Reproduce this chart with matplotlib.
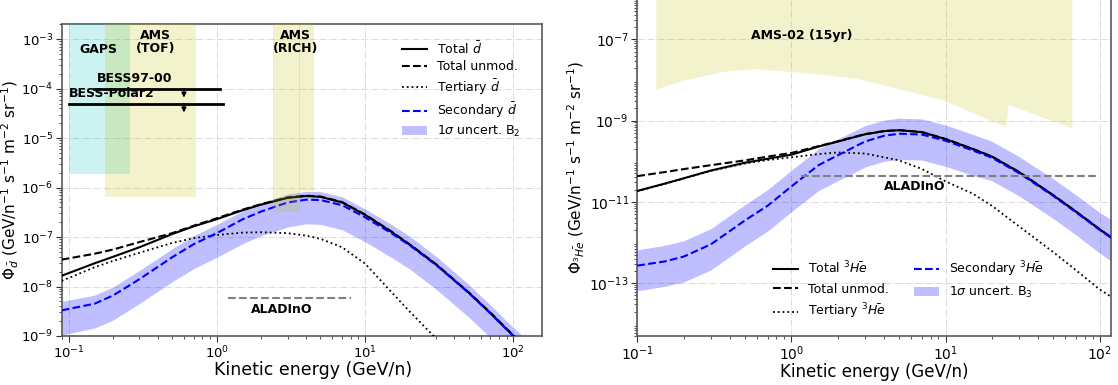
import matplotlib
matplotlib.use("Agg")
import matplotlib.pyplot as plt

# ---------------- antideuteron panel (left) ----------------
e_d = [0.09, 0.15, 0.2, 0.3, 0.5, 0.7, 1, 1.5, 2, 3, 4, 5, 7, 10, 15, 20, 30, 50, 70, 100, 150]
total_d = [1.65e-8, 2.95e-8, 4.0e-8, 6.2e-8, 1.15e-7, 1.65e-7, 2.3e-7, 3.5e-7, 4.55e-7, 6.2e-7, 6.75e-7,
           6.5e-7, 5.0e-7, 2.8e-7, 1.28e-7, 7.0e-8, 2.8e-8, 7.5e-9, 2.9e-9, 1.0e-9, 3.5e-10]
unmod_d = [3.5e-8, 4.6e-8, 5.6e-8, 7.9e-8, 1.2e-7, 1.7e-7, 2.4e-7, 3.6e-7, 4.65e-7, 6.3e-7, 6.85e-7,
           6.6e-7, 5.1e-7, 2.85e-7, 1.3e-7, 7.1e-8, 2.85e-8, 7.6e-9, 2.95e-9, 1.02e-9, 3.6e-10]
tert_d = [1.3e-8, 2.45e-8, 3.3e-8, 4.8e-8, 7.6e-8, 9.5e-8, 1.1e-7, 1.23e-7, 1.25e-7, 1.2e-7, 1.07e-7,
          9.2e-8, 6.2e-8, 2.9e-8, 7.8e-9, 3.1e-9, 9e-10, 2e-10, 7e-11, 2e-11, 5e-12]
sec_d = [3.3e-9, 4.5e-9, 6.6e-9, 1.4e-8, 3.9e-8, 7.2e-8, 1.2e-7, 2.3e-7, 3.3e-7, 5.0e-7, 5.7e-7,
         5.6e-7, 4.4e-7, 2.5e-7, 1.2e-7, 6.8e-8, 2.75e-8, 7.4e-9, 2.85e-9, 9.9e-10, 3.4e-10]
band_d_hi = [5.0e-9, 6.7e-9, 9.8e-9, 2.1e-8, 5.8e-8, 1.07e-7, 1.8e-7, 3.4e-7, 4.9e-7, 7.4e-7, 8.4e-7,
             8.3e-7, 6.5e-7, 3.7e-7, 1.8e-7, 1.04e-7, 4.1e-8, 1.1e-8, 4.2e-9, 1.47e-9, 5e-10]
band_d_lo = [1.05e-9, 1.45e-9, 2.1e-9, 4.5e-9, 1.25e-8, 2.3e-8, 3.9e-8, 7.4e-8, 1.07e-7, 1.6e-7, 1.85e-7,
             1.8e-7, 1.4e-7, 8e-8, 3.9e-8, 2.25e-8, 8.9e-9, 2.4e-9, 9.2e-10, 3.2e-10, 1.1e-10]

gaps_e = [0.1, 0.26]
gaps_lo = 1.9e-6
tof_e = [0.176, 0.72]
tof_lo = 6.6e-7
rich_e = [2.39, 3.59, 4.53]
rich_lo = [3.3e-7, 8.5e-7]
bess97_e, bess97_y = [0.149, 1.05], 1e-4
bessp2_e, bessp2_y = [0.1, 1.1], 5e-5
bess_arrow_e = 0.6
aladino_d_e, aladino_d_y = [1.19, 8.0], 5.9e-9

# ---------------- antihelium-3 panel (right) ----------------
e_he = [0.1, 0.15, 0.2, 0.3, 0.5, 0.7, 1, 1.5, 2, 3, 4, 5, 7, 10, 15, 20, 30, 50, 70, 100, 120]
total_he = [1.86e-11, 2.8e-11, 3.8e-11, 5.9e-11, 9.2e-11, 1.15e-10, 1.45e-10, 2.3e-10, 3.05e-10, 4.6e-10,
            5.5e-10, 5.8e-10, 5.2e-10, 3.5e-10, 2.0e-10, 1.3e-10, 5.4e-11, 1.45e-11, 5.8e-12, 2.1e-12, 1.3e-12]
unmod_he = [4.3e-11, 5.4e-11, 6.4e-11, 8.0e-11, 1.05e-10, 1.3e-10, 1.6e-10, 2.35e-10, 3.1e-10, 4.65e-10,
            5.55e-10, 5.85e-10, 5.25e-10, 3.55e-10, 2.02e-10, 1.31e-10, 5.45e-11, 1.46e-11, 5.85e-12, 2.12e-12,
            1.31e-12]
tert_he = [1.83e-11, 2.75e-11, 3.75e-11, 5.8e-11, 8.8e-11, 1.07e-10, 1.25e-10, 1.5e-10, 1.65e-10, 1.55e-10,
           1.25e-10, 1.05e-10, 6.5e-11, 3.2e-11, 1.6e-11, 8e-12, 2.5e-12, 5.8e-13, 2.1e-13, 7e-14, 4.5e-14]
sec_he = [2.7e-13, 3.4e-13, 4.5e-13, 9e-13, 3.5e-12, 8e-12, 2.4e-11, 8e-11, 1.4e-10, 3.05e-10, 4.25e-10,
          4.75e-10, 4.55e-10, 3.2e-10, 1.85e-10, 1.22e-10, 5.1e-11, 1.4e-11, 5.6e-12, 2.05e-12, 1.27e-12]
band_he_hi = [6.6e-13, 8.5e-13, 1.1e-12, 2.2e-12, 8.5e-12, 2e-11, 6e-11, 2e-10, 3.5e-10, 7.5e-10, 1.03e-9,
              1.15e-9, 1.1e-9, 7.8e-10, 4.6e-10, 3.1e-10, 1.3e-10, 3.7e-11, 1.5e-11, 5.5e-12, 3.6e-12]
band_he_lo = [6.5e-14, 8.3e-14, 1.07e-13, 2.1e-13, 8.3e-13, 1.9e-12, 5.7e-12, 1.9e-11, 3.3e-11, 7.2e-11,
              1e-10, 1.1e-10, 1.07e-10, 7.5e-11, 4.5e-11, 3.3e-11, 1.4e-11, 3.9e-12, 1.55e-12, 5.5e-13, 3.4e-13]

ams02_e = [0.132, 0.2, 0.35, 0.56, 1.3, 2.6, 4.6, 9.7, 24.5, 25.5, 66]
ams02_lo = [6e-9, 1e-8, 1.6e-8, 1.9e-8, 1.5e-8, 1.1e-8, 6.6e-9, 3.2e-9, 7e-10, 2.5e-9, 6.6e-10]
ams02_top = 1e-5
aladino_he_e, aladino_he_y = [1.15, 96], 4.3e-11
he_yticks = [1e-13, 1e-11, 1e-9, 1e-7]

band_col = (0.0, 0.0, 1.0, 0.25)
fs_leg, fs_txt = 9, 9


def style_axes(ax, fs_tick):
    ax.set_xscale('log')
    ax.set_yscale('log')
    for s in ax.spines.values():
        s.set_color('0.35')
        s.set_linewidth(1.2)
    ax.tick_params(which='both', direction='out', labelsize=fs_tick, color='0.2', pad=2)
    ax.tick_params(which='major', length=4)
    ax.tick_params(which='minor', length=2)
    ax.grid(True, which='major', color='0.85', linestyle='-.', linewidth=0.7)
    ax.set_axisbelow(True)


fig = plt.figure(figsize=(11.18, 3.85), dpi=100)

# ---------- left ----------
ax1 = fig.add_axes([0.0552, 0.1273, 0.4293, 0.8096])
style_axes(ax1, 9.5)
ax1.fill_between(e_d, band_d_lo, band_d_hi, color=band_col, lw=0, label=r'1$\sigma$ uncert. B$_2$', zorder=2)
ax1.plot(e_d, total_d, 'k-', lw=1.5, label=r'Total $\bar{d}$', zorder=4)
ax1.plot(e_d, unmod_d, 'k--', lw=1.5, label='Total unmod.', zorder=4)
ax1.plot(e_d, tert_d, 'k:', lw=1.3, label=r'Tertiary $\bar{d}$', zorder=4)
ax1.plot(e_d, sec_d, '--', color='blue', lw=1.5, label=r'Secondary $\bar{d}$', zorder=4)

ylim_d = (1e-9, 2e-3)
ax1.fill_between(gaps_e, gaps_lo, ylim_d[1], color='c', alpha=0.2, lw=0, zorder=5)
ax1.fill_between(tof_e, tof_lo, ylim_d[1], color='y', alpha=0.2, lw=0, zorder=5)
ax1.fill_between(rich_e[:2], rich_lo[0], ylim_d[1], color='y', alpha=0.2, lw=0.6, edgecolor='y', zorder=5)
ax1.fill_between(rich_e[1:], rich_lo[1], ylim_d[1], color='y', alpha=0.2, lw=0, zorder=5)

ax1.plot(bess97_e, [bess97_y] * 2, 'k-', lw=2, zorder=6)
ax1.plot(bessp2_e, [bessp2_y] * 2, 'k-', lw=2, zorder=6)
for yy in (bess97_y, bessp2_y):
    ax1.annotate('', xy=(bess_arrow_e, yy * 0.66), xytext=(bess_arrow_e, yy),
                 arrowprops=dict(arrowstyle='-|>', color='k', lw=1, mutation_scale=7,
                                 shrinkA=0, shrinkB=0), zorder=6)
ax1.plot(aladino_d_e, [aladino_d_y] * 2, '--', color='gray', lw=1.5, zorder=6)

bold = dict(fontsize=fs_txt, fontweight='bold', zorder=7)
ax1.text(0.158, 6.2e-4, 'GAPS', ha='center', va='center', **bold)
ax1.text(0.384, 8.6e-4, 'AMS\n(TOF)', ha='center', va='center', linespacing=1.0, **bold)
ax1.text(3.4, 8.6e-4, 'AMS\n(RICH)', ha='center', va='center', linespacing=1.0, **bold)
ax1.text(0.156, 1.16e-4, 'BESS97-00', ha='left', va='bottom', **bold)
ax1.text(0.1, 5.9e-5, 'BESS-Polar2', ha='left', va='bottom', **bold)
ax1.text(2.75, 3.5e-9, 'ALADInO', ha='center', va='center', **bold)

ax1.set_xlim(0.09, 155)
ax1.set_ylim(*ylim_d)
ax1.set_xlabel('Kinetic energy (GeV/n)', fontsize=12.5, labelpad=0, x=0.5235)
ax1.set_ylabel(r'$\Phi_{\bar{d}}$ (GeV/n$^{-1}$ s$^{-1}$ m$^{-2}$ sr$^{-1}$)', fontsize=11, labelpad=0)

h, l = ax1.get_legend_handles_labels()
order = [1, 2, 3, 4, 0]
ax1.legend([h[i] for i in order], [l[i] for i in order], loc='upper left', bbox_to_anchor=(0.685, 0.985),
           frameon=False, fontsize=fs_leg, handlelength=2.0, labelspacing=0.3)

# ---------- right ----------
ax2 = fig.add_axes([0.570, 0.1273, 0.4235, 0.876])
style_axes(ax2, 10)
ax2.fill_between(ams02_e, ams02_lo, ams02_top, color='y', alpha=0.2, lw=0, zorder=1)
ax2.fill_between(e_he, band_he_lo, band_he_hi, color=band_col, lw=0, label=r'1$\sigma$ uncert. B$_3$', zorder=2)
ax2.plot(e_he, total_he, 'k-', lw=1.5, label=r'Total $^3\bar{He}$', zorder=4)
ax2.plot(e_he, unmod_he, 'k--', lw=1.5, label='Total unmod.', zorder=4)
ax2.plot(e_he, tert_he, 'k:', lw=1.3, label=r'Tertiary $^3\bar{He}$', zorder=4)
ax2.plot(e_he, sec_he, '--', color='blue', lw=1.5, label=r'Secondary $^3\bar{He}$', zorder=4)
ax2.plot(aladino_he_e, [aladino_he_y] * 2, '--', color='gray', lw=1.5, zorder=5)
ax2.text(1.17, 1.27e-7, 'AMS-02 (15yr)', ha='center', va='center', **bold)
ax2.text(6.3, 2.4e-11, 'ALADInO', ha='center', va='center', **bold)

ax2.set_xlim(0.1, 118)
ax2.set_ylim(5e-15, 1e-6)
ax2.set_yticks(he_yticks)
ax2.set_xlabel('Kinetic energy (GeV/n)', fontsize=12, labelpad=0)
ax2.set_ylabel(r'$\Phi_{^3\bar{He}}$ (GeV/n$^{-1}$ s$^{-1}$ m$^{-2}$ sr$^{-1}$)', fontsize=11, labelpad=2)

h, l = ax2.get_legend_handles_labels()
order = [1, 2, 3, 4, 0]
ax2.legend([h[i] for i in order], [l[i] for i in order], loc='lower left', bbox_to_anchor=(0.263, 0.01),
           ncol=2, frameon=False, fontsize=fs_leg, handlelength=2.0)

fig.savefig('out.png', dpi=100)
